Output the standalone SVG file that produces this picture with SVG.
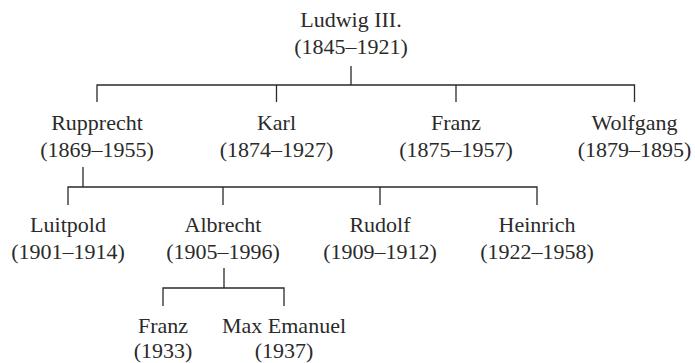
<svg xmlns="http://www.w3.org/2000/svg" width="695" height="363" viewBox="0 0 695 363">
<style>
text{font-family:'Liberation Serif','Times New Roman','DejaVu Serif',serif;font-size:22px;fill:#2a2a2a;text-anchor:middle}
.c{fill:none;stroke:#2a2a2a;stroke-width:1.3}
</style>
<rect width="695" height="363" fill="#fff"/>
<g id="connectors" class="c">
<path d="M351 66V85M97 102V85H634.5V102M276.5 85V102M456 85V102"/>
<path d="M83 167V187M68 205V187H537V205M223 187V205M380 187V205"/>
<path d="M224 268V288M163 306V288H284V306"/>
</g>
<g id="ludwig"><text x="351" y="27">Ludwig III.</text><text x="351" y="54">(1845–1921)</text></g>
<g id="rupprecht"><text x="97" y="130">Rupprecht</text><text x="97" y="157">(1869–1955)</text></g>
<g id="karl"><text x="276.5" y="130">Karl</text><text x="276.5" y="157">(1874–1927)</text></g>
<g id="franz1"><text x="456" y="130">Franz</text><text x="456" y="157">(1875–1957)</text></g>
<g id="wolfgang"><text x="634.5" y="130">Wolfgang</text><text x="634.5" y="157">(1879–1895)</text></g>
<g id="luitpold"><text x="68" y="232">Luitpold</text><text x="68" y="259">(1901–1914)</text></g>
<g id="albrecht"><text x="223" y="232">Albrecht</text><text x="223" y="259">(1905–1996)</text></g>
<g id="rudolf"><text x="380" y="232">Rudolf</text><text x="380" y="259">(1909–1912)</text></g>
<g id="heinrich"><text x="537" y="232">Heinrich</text><text x="537" y="259">(1922–1958)</text></g>
<g id="franz2"><text x="163" y="333">Franz</text><text x="163" y="358">(1933)</text></g>
<g id="maxemanuel"><text x="284" y="333">Max Emanuel</text><text x="284" y="358">(1937)</text></g>
</svg>
